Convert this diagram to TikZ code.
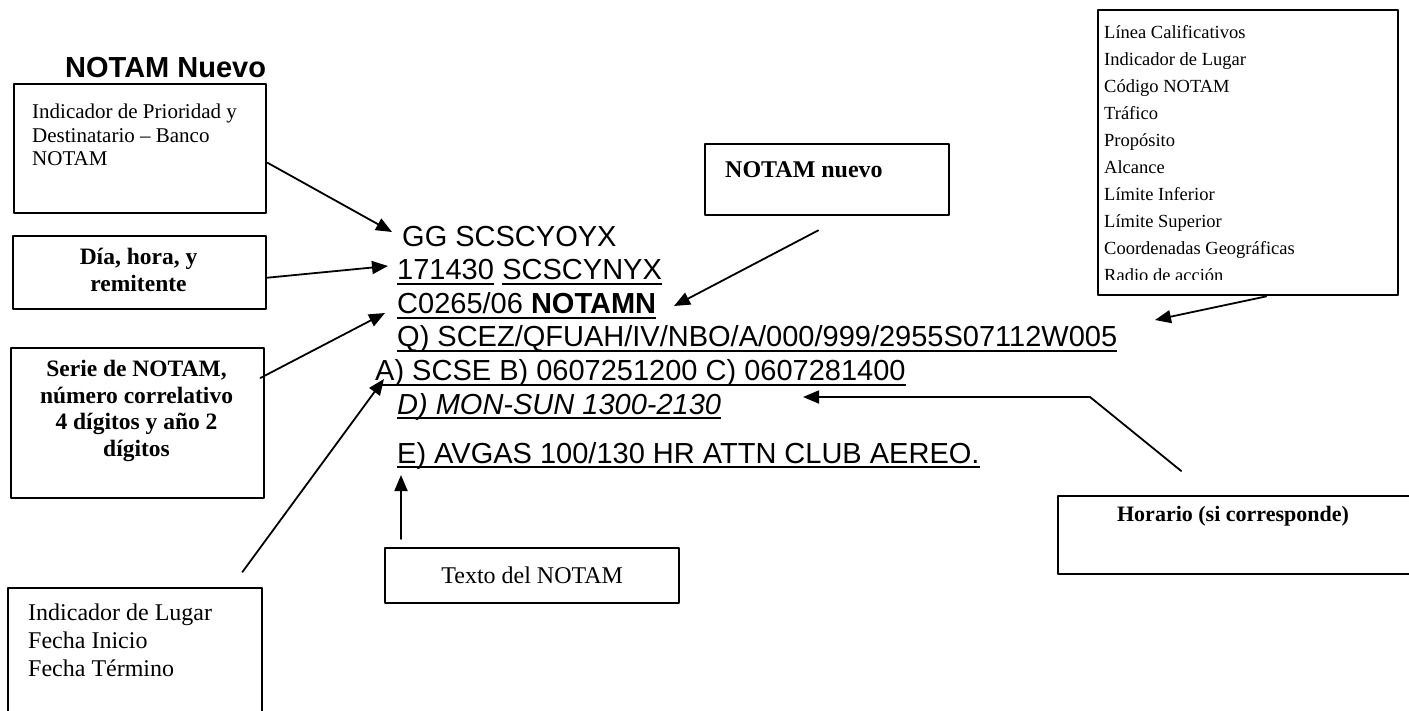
\documentclass[tikz,border=0pt]{standalone}
\usepackage{fontspec}
\setmainfont{Liberation Serif}
\newfontfamily\arialfont{Liberation Sans}
\usetikzlibrary{arrows.meta}

\begin{document}
\begin{tikzpicture}[x=1pt, y=-1pt, line cap=round, line join=round,
  box/.style={draw, line width=2.4pt, inner sep=0pt, anchor=north west},
  pointer/.style={line width=1.8pt, -{Triangle[length=16pt,width=13pt]}},
  notam/.style={anchor=base west, inner sep=0pt, font=\arialfont\fontsize{29}{32}\selectfont},
  uline/.style={line width=2.6pt, line cap=butt},
  boxlabel/.style={inner sep=0pt, anchor=base west}]
  \useasboundingbox (0,0) rectangle (1409,711);
  \clip (0,0) rectangle (1409,711);

  \node[boxlabel, font=\arialfont\bfseries\fontsize{29}{32}\selectfont] (title) at (65,78) {NOTAM Nuevo};

  \node[box, minimum width=252pt, minimum height=129pt] (prio) at (13,83) {};
  \node[inner sep=0pt, anchor=north west, align=left, font=\fontsize{21}{23.5}\selectfont] (priotxt) at (32,104)
    {Indicador de Prioridad y\\Destinatario – Banco\\NOTAM};

  \node[box, minimum width=253pt, minimum height=73pt] (dia) at (12,235) {};
  \node[inner sep=0pt, anchor=north, align=center, font=\bfseries\fontsize{23.5}{27}\selectfont] (diatxt) at (138.5,248)
    {Día, hora, y\\remitente};

  \node[box, minimum width=253pt, minimum height=150pt] (serie) at (10,347) {};
  \node[inner sep=0pt, anchor=north, align=center, font=\bfseries\fontsize{23.5}{26.5}\selectfont] (serietxt) at (136.5,360)
    {Serie de NOTAM,\\número correlativo\\4 dígitos y año 2\\dígitos};

  \node[box, minimum width=254pt, minimum height=160pt] (lugar) at (7,587) {};
  \node[inner sep=0pt, anchor=north west, align=left, font=\fontsize{24}{28}\selectfont] (lugartxt) at (28,604)
    {Indicador de Lugar\\Fecha Inicio\\Fecha Término};

  \node[box, minimum width=294pt, minimum height=55pt, font=\fontsize{24}{26}\selectfont] (texto) at (384,547) {Texto del NOTAM};

  \node[box, minimum width=244pt, minimum height=71pt] (nuevo) at (704,143) {};
  \node[boxlabel, font=\bfseries\fontsize{24}{26}\selectfont] (nuevotxt) at (725,178) {NOTAM nuevo};

  \node[box, minimum width=300pt, minimum height=285pt] (calif) at (1097,9) {};
  \begin{scope}
    \clip (1097,9) rectangle (1397,280);
    \foreach \txt [count=\k] in {Línea Calificativos, Indicador de Lugar, Código NOTAM, Tráfico, Propósito,
        Alcance, Límite Inferior, Límite Superior, Coordenadas Geográficas, Radio de acción} {
      \node[boxlabel, font=\fontsize{18.5}{20}\selectfont] (calif\k) at (1104,{39+27*(\k-1)}) {\txt};
    }
  \end{scope}

  \node[box, minimum width=370pt, minimum height=78pt] (horario) at (1057,495) {};
  \node[inner sep=0pt, font=\bfseries\fontsize{22}{24}\selectfont] (horariotxt) at (1233,516) {Horario (si corresponde)};

  \node[notam] (l1) at (402,247) {GG SCSCYOYX};
  \node[notam] (l2a) at (397,280) {171430};
  \node[notam] (l2b) at ([xshift=8pt]l2a.base east) {SCSCYNYX};
  \node[notam] (l3) at (397,314) {C0265/06 \textbf{NOTAMN}};
  \node[notam] (l4) at (397,347) {Q) SCEZ/QFUAH/IV/NBO/A/000/999/2955S07112W005};
  \node[notam] (l5) at (375,381) {A) SCSE B) 0607251200 C) 0607281400};
  \node[notam] (l6) at (397,414) {\itshape D) MON-SUN 1300-2130};
  \node[notam] (l7) at (397,463) {E) AVGAS 100/130 HR ATTN CLUB AEREO.};

  \foreach \n in {l2a,l2b,l3,l4,l5,l6,l7} {
    \draw[uline] ([yshift=-4pt]\n.base west) -- ([yshift=-4pt]\n.base east);
  }

  \coordinate (t1) at (392,232);
  \coordinate (t2) at (388,266);
  \coordinate (t3) at (385,313);
  \coordinate (t4) at (384,379);
  \coordinate (t5) at (674,306);
  \coordinate (t6) at (1155,320);
  \coordinate (hbend) at (1090,397);
  \coordinate (t7) at (803,397);
  \coordinate (t8) at (401,475);
  \path (t8 |- texto.north) ++(0,-8) coordinate (t8s);

  \draw[pointer] ([yshift=-14pt]prio.east) -- (t1);
  \draw[pointer] ([yshift=-5pt]dia.east) -- (t2);
  \draw[pointer] ([xshift=-5pt,yshift=-31pt]serie.north east) -- (t3);
  \draw[pointer] ([xshift=-21pt,yshift=15pt]lugar.north east) -- (t4);
  \draw[pointer] ([xshift=-9pt,yshift=-14pt]nuevo.south) -- (t5);
  \draw[pointer] ([xshift=18pt]calif.south) -- (t6);
  \draw[pointer] ([xshift=-62pt,yshift=24pt]horario.north) -- (hbend) -- (t7);
  \draw[pointer] (t8s) -- (t8);
\end{tikzpicture}
\end{document}
